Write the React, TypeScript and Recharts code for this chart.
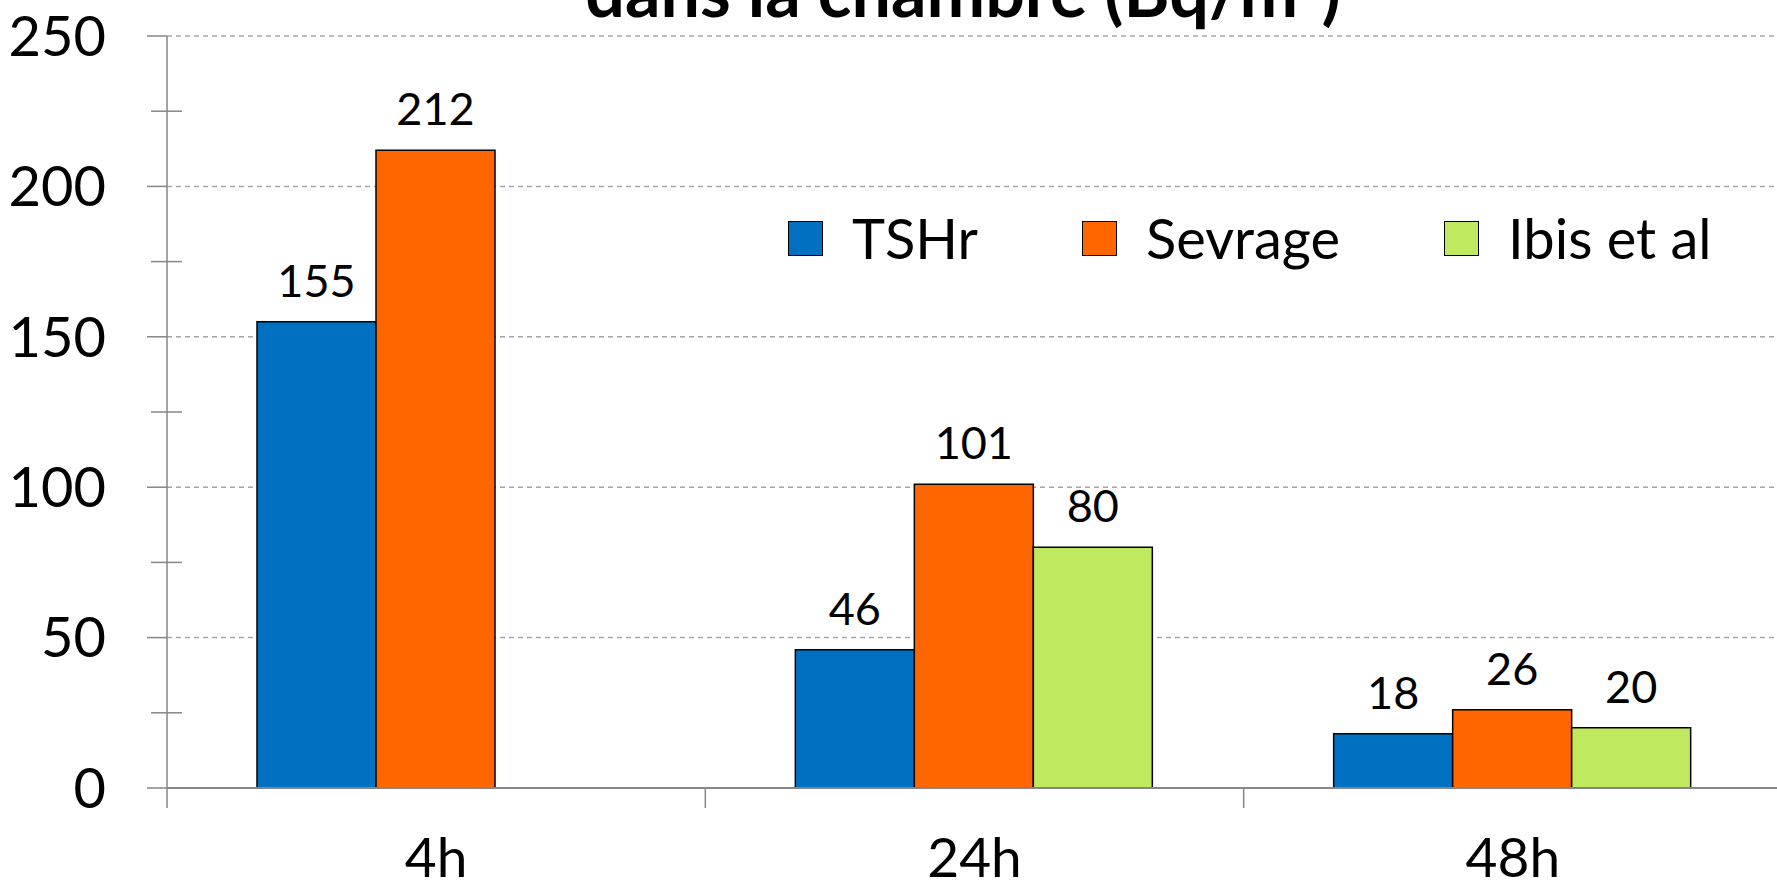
import { BarChart, Bar, XAxis, YAxis, CartesianGrid, Legend, LabelList, Text } from 'recharts';

const categories = ['4h', '24h', '48h'];
const tshr = [155, 46, 18];
const sevrage = [212, 101, 26];
const ibis = [null, 80, 20];
const yTicks = [0, 25, 50, 75, 100, 125, 150, 175, 200, 225, 250];
const gridValues = [50, 100, 150, 200, 250];

const series = [
  { key: 'tshr', name: 'TSHr', color: '#0070c0' },
  { key: 'sevrage', name: 'Sevrage', color: '#ff6600' },
  { key: 'ibis', name: 'Ibis et al', color: '#bfea60' },
];

const data = categories.map((cat, i) => ({
  cat,
  tshr: tshr[i],
  sevrage: sevrage[i],
  ibis: ibis[i],
}));

const W = 1790;
const H = 892;
const Y_W = 167;
const M_RIGHT = 8;
const BAND = (W - Y_W - M_RIGHT) / categories.length;
const FONT = "Lato, 'Noto Sans', sans-serif";
const AXIS = '#868686';
const X_TICK_SIZE = 20;
const X_TICK_MARGIN = 30;

function YTick(props: any) {
  const { x, y, payload } = props;
  const lineX = x + 61;
  const major = payload.value % 50 === 0;
  if (!major) {
    return <line x1={lineX - 16} x2={lineX + 15} y1={y} y2={y} stroke={AXIS} strokeWidth={1.5} />;
  }
  return (
    <g>
      <line x1={lineX - 20} x2={lineX} y1={y} y2={y} stroke={AXIS} strokeWidth={1.5} />
      <Text x={x} y={y} textAnchor="end" verticalAnchor="middle" fontSize={56} fontFamily={FONT} fill="#000">
        {payload.value}
      </Text>
    </g>
  );
}

function XTick(props: any) {
  const { x, y, payload, index } = props;
  const axisY = y - X_TICK_SIZE - X_TICK_MARGIN;
  const left = x - BAND / 2;
  return (
    <g>
      <line x1={left} x2={left} y1={axisY} y2={axisY + 20} stroke={AXIS} strokeWidth={1.5} />
      {index === categories.length - 1 && (
        <line x1={x + BAND / 2} x2={x + BAND / 2} y1={axisY} y2={axisY + 20} stroke={AXIS} strokeWidth={1.5} />
      )}
      <Text x={x} y={y} textAnchor="middle" verticalAnchor="start" fontSize={55} fontFamily={FONT} fill="#000">
        {payload.value}
      </Text>
    </g>
  );
}

function LegendContent() {
  return (
    <div style={{ display: 'flex', alignItems: 'center', fontFamily: FONT, whiteSpace: 'nowrap' }}>
      {series.map((s) => (
        <div key={s.key} style={{ display: 'flex', alignItems: 'center', marginRight: 104 }}>
          <div style={{ width: 35, height: 35, background: s.color, border: '1.5px solid #000', boxSizing: 'border-box' }} />
          <span style={{ fontSize: 56, lineHeight: 1, marginLeft: 29, color: '#000' }}>{s.name}</span>
        </div>
      ))}
    </div>
  );
}

export default function App() {
  return (
    <div style={{ position: 'absolute', left: 0, top: 0, width: 1777, height: 892, overflow: 'hidden', background: '#fff' }}>
      <BarChart
        width={W}
        height={H}
        data={data}
        margin={{ top: 36, right: M_RIGHT, left: 0, bottom: 0 }}
        barCategoryGap={90}
        barGap={0}
      >
        <CartesianGrid vertical={false} horizontalValues={gridValues} stroke="#a6a6a6" strokeWidth={1.5} strokeDasharray="5 4" />
        <XAxis
          dataKey="cat"
          height={104}
          tickSize={X_TICK_SIZE}
          tickMargin={X_TICK_MARGIN}
          interval={0}
          tickLine={false}
          axisLine={{ stroke: AXIS, strokeWidth: 2 }}
          tick={XTick}
        />
        <YAxis
          domain={[0, 250]}
          ticks={yTicks}
          interval={0}
          width={Y_W}
          tickSize={20}
          tickMargin={41}
          tickLine={false}
          axisLine={{ stroke: AXIS, strokeWidth: 1.5 }}
          tick={YTick}
        />
        <Legend
          layout="horizontal"
          verticalAlign="middle"
          align="center"
          content={<LegendContent />}
          wrapperStyle={{ left: 788, top: 210, width: 1100, bottom: 'auto' }}
        />
        {series.map((s) => (
          <Bar key={s.key} dataKey={s.key} name={s.name} fill={s.color} stroke="#000" strokeWidth={1.5} isAnimationActive={false}>
            <LabelList dataKey={s.key} position="top" offset={25} fontSize={45} fontFamily={FONT} fill="#000" />
          </Bar>
        ))}
      </BarChart>
      <svg width={1777} height={60} style={{ position: 'absolute', left: 0, top: 0 }}>
        <text x={963} y={17} textAnchor="middle" fontSize={70} fontWeight={700} fontFamily={FONT} fill="#000">
          dans la chambre (Bq/m³)
        </text>
      </svg>
    </div>
  );
}
